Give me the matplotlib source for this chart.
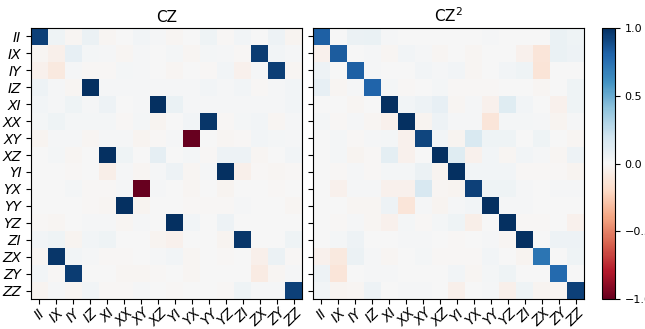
import numpy as np
import matplotlib
matplotlib.use("Agg")
import matplotlib.pyplot as plt

labels = ["II", "IX", "IY", "IZ", "XI", "XX", "XY", "XZ",
          "YI", "YX", "YY", "YZ", "ZI", "ZX", "ZY", "ZZ"]
titles = ["CZ", "CZ$^2$"]

cz = [
    [0.93, 0.04, -0.02, 0.06, -0.02, 0.0, 0.03, 0.01, -0.02, 0.0, 0.04, -0.01, 0.03, 0.0, 0.05, -0.03],
    [-0.02, -0.05, 0.08, 0.02, 0.01, -0.02, 0.01, 0.0, 0.02, -0.02, 0.02, 0.01, -0.01, 0.95, 0.03, 0.01],
    [-0.04, -0.10, 0.01, -0.01, -0.01, 0.02, 0.01, 0.0, -0.02, 0.0, -0.01, 0.03, -0.04, 0.01, 0.94, -0.02],
    [0.05, 0.01, -0.02, 1.0, 0.01, 0.01, 0.01, 0.01, 0.01, 0.01, 0.03, 0.01, 0.03, -0.01, 0.01, 0.03],
    [0.03, 0.01, 0.04, 0.01, 0.05, 0.0, 0.01, 1.0, 0.07, 0.01, 0.01, 0.01, 0.01, 0.01, 0.01, 0.03],
    [0.02, 0.04, 0.02, 0.02, 0.02, -0.01, 0.02, -0.03, 0.0, 0.03, 0.97, -0.01, 0.02, 0.03, -0.02, 0.01],
    [-0.03, 0.01, 0.01, -0.02, 0.01, 0.01, -0.03, -0.01, 0.01, -1.0, 0.0, -0.02, -0.01, 0.03, 0.02, 0.01],
    [0.0, 0.02, -0.02, 0.0, 1.0, 0.04, 0.0, 0.09, 0.0, 0.02, -0.01, 0.05, 0.05, -0.02, 0.0, 0.03],
    [0.0, 0.0, -0.01, 0.0, -0.06, 0.01, -0.02, 0.01, 0.05, -0.02, 0.01, 1.0, -0.05, -0.01, -0.02, -0.01],
    [0.0, 0.0, 0.02, -0.01, -0.01, 0.01, -1.0, 0.01, 0.0, -0.02, 0.0, -0.03, 0.0, 0.0, -0.01, 0.0],
    [0.0, 0.0, 0.0, -0.01, -0.02, 1.0, -0.03, 0.0, 0.0, -0.01, -0.01, -0.01, 0.01, 0.0, 0.0, -0.02],
    [-0.01, -0.02, 0.0, 0.01, 0.01, -0.02, 0.01, 0.0, 1.0, 0.03, 0.0, 0.05, 0.0, 0.0, 0.0, 0.0],
    [0.03, 0.04, -0.03, 0.03, 0.04, 0.0, 0.0, -0.03, -0.04, 0.0, 0.0, -0.03, 0.97, 0.0, 0.0, 0.04],
    [-0.02, 0.97, 0.03, 0.01, -0.01, -0.01, 0.0, 0.01, 0.03, -0.02, 0.0, -0.01, 0.0, -0.05, 0.06, -0.01],
    [0.03, -0.01, 0.95, 0.0, 0.0, -0.02, -0.02, -0.01, 0.0, -0.02, 0.0, 0.0, 0.0, -0.08, -0.02, 0.01],
    [-0.03, 0.01, -0.02, 0.03, -0.01, -0.01, 0.01, 0.0, -0.01, 0.0, 0.0, -0.01, 0.04, 0.01, 0.01, 0.93],
]

cz2 = [
    [0.82, 0.0, 0.06, 0.07, 0.01, 0.0, 0.0, 0.0, 0.0, 0.0, 0.01, 0.0, 0.0, 0.0, 0.07, 0.04],
    [-0.04, 0.83, 0.0, 0.01, -0.02, 0.03, 0.01, -0.02, 0.0, -0.02, 0.0, 0.0, -0.04, -0.12, 0.07, 0.05],
    [0.05, 0.0, 0.82, 0.01, 0.0, 0.0, 0.03, 0.01, 0.03, -0.02, 0.0, 0.03, 0.04, -0.13, 0.0, 0.0],
    [0.08, -0.02, 0.01, 0.80, 0.02, -0.01, 0.0, 0.02, -0.01, -0.01, -0.01, 0.0, 0.0, -0.02, 0.0, 0.04],
    [0.0, 0.0, -0.02, 0.0, 1.0, 0.03, 0.05, 0.08, -0.02, 0.01, -0.04, 0.12, 0.03, 0.0, -0.04, 0.04],
    [0.02, -0.01, 0.01, -0.02, -0.04, 1.0, -0.03, 0.05, 0.01, 0.01, -0.12, 0.02, 0.02, 0.01, -0.03, 0.01],
    [0.0, 0.02, -0.01, 0.01, 0.02, -0.04, 0.92, 0.03, -0.03, 0.15, 0.04, 0.04, 0.0, 0.04, 0.0, -0.02],
    [0.0, 0.02, -0.03, -0.01, 0.10, -0.04, 0.0, 1.0, 0.12, -0.04, 0.03, -0.02, 0.03, 0.01, -0.02, 0.05],
    [0.0, -0.01, 0.01, -0.01, 0.02, 0.02, 0.06, -0.03, 1.0, 0.03, 0.03, 0.03, -0.01, -0.01, -0.01, -0.03],
    [0.0, -0.04, 0.01, 0.01, -0.04, -0.04, 0.16, -0.02, -0.03, 0.93, 0.04, 0.04, 0.01, 0.0, 0.01, 0.01],
    [0.0, 0.0, -0.02, -0.02, 0.05, -0.12, 0.01, -0.03, 0.01, 0.03, 1.0, 0.01, 0.01, 0.0, 0.0, 0.0],
    [0.0, -0.01, 0.01, -0.02, -0.04, 0.02, -0.01, 0.02, 0.04, -0.06, 0.0, 1.0, -0.01, -0.01, 0.0, -0.04],
    [0.0, 0.02, 0.05, 0.0, 0.0, 0.01, 0.01, 0.0, -0.01, 0.0, 0.01, -0.02, 1.0, 0.0, 0.05, 0.05],
    [-0.04, -0.10, 0.06, 0.01, -0.02, 0.0, 0.02, -0.01, -0.01, -0.01, 0.03, 0.0, -0.03, 0.73, 0.0, 0.04],
    [0.05, -0.12, 0.0, 0.01, 0.01, 0.0, 0.0, 0.0, 0.03, -0.02, 0.02, 0.04, 0.0, 0.0, 0.78, 0.0],
    [0.03, -0.03, -0.02, 0.05, 0.0, 0.01, 0.01, 0.0, -0.05, 0.0, 0.01, -0.05, 0.04, -0.03, -0.02, 0.93],
]

cbar_ticks = [-1.0, -0.5, 0.0, 0.5, 1.0]

fig = plt.figure(figsize=(6.45, 3.29), dpi=100)
ax1 = fig.add_axes([31/645, 1-299/329, 271/645, 271/329])
ax2 = fig.add_axes([313/645, 1-299/329, 271/645, 271/329])
cax = fig.add_axes([602/645, 1-299/329, 13/645, 271/329])

im = None
for ax, mat, title in zip([ax1, ax2], [cz, cz2], titles):
    im = ax.imshow(np.array(mat), cmap="RdBu", vmin=-1, vmax=1, aspect="auto")
    ax.set_title(title, fontsize=11, pad=4)
    ax.set_xticks(range(len(labels)))
    ax.set_xticklabels(labels, rotation=45, fontstyle="italic", fontsize=10)
    ax.tick_params(axis="x", pad=1.5)
    ax.set_yticks(range(len(labels)))
    if ax is ax1:
        ax.set_yticklabels(labels, fontstyle="italic", fontsize=10)
    else:
        ax.set_yticklabels([])

cb = fig.colorbar(im, cax=cax, ticks=cbar_ticks)
cb.ax.tick_params(labelsize=8)

fig.savefig("out.png", dpi=100)
